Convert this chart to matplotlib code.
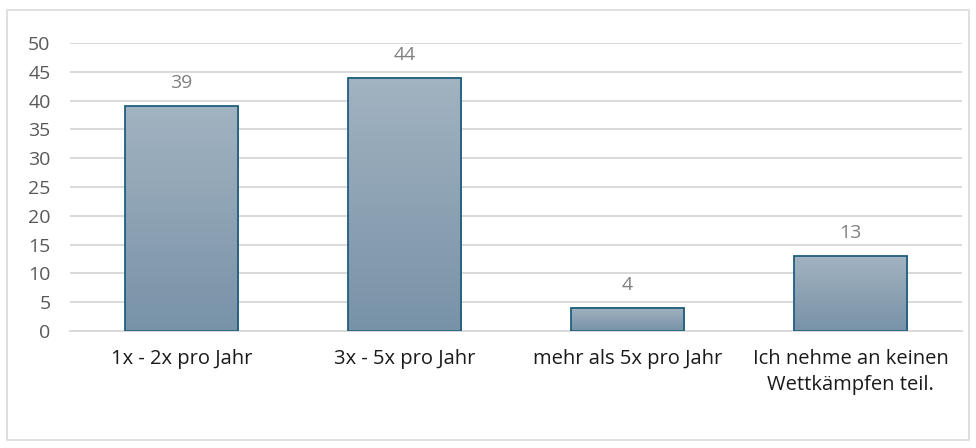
import numpy as np
import matplotlib.pyplot as plt
from matplotlib.patches import Rectangle
from matplotlib.colors import LinearSegmentedColormap

# Häufigkeit der Wettkampfteilnahme
kategorien = ["1x - 2x pro Jahr", "3x - 5x pro Jahr", "mehr als 5x pro Jahr",
              "Ich nehme an keinen\nWettkämpfen teil."]
werte = [39, 44, 4, 13]
y_ticks = list(range(0, 55, 5))

plt.rcParams['font.family'] = ['Open Sans', 'DejaVu Sans']

fig = plt.figure(figsize=(9.76, 4.48), dpi=100)
ax = fig.add_axes([70 / 976, (448 - 331) / 448, 892 / 976, 288 / 448])

# Rahmen um das Diagramm
fig.patches.append(Rectangle((7 / 976, 8 / 448), 962 / 976, 430 / 448,
                             transform=fig.transFigure, fill=False,
                             edgecolor="#D9D9D9", linewidth=1.2))

x = np.arange(len(werte))
breite = 0.507
bars = ax.bar(x, werte, width=breite, color="none", edgecolor="#1F5F7F",
              linewidth=1.3, zorder=3)

# Farbverlauf in den Balken
verlauf = np.linspace(0, 1, 256).reshape(-1, 1)
cmap = LinearSegmentedColormap.from_list("v", ["#7892A7", "#A2B3C1"])
for b in bars:
    x0, w, h = b.get_x(), b.get_width(), b.get_height()
    ax.imshow(verlauf, cmap=cmap, origin="lower", aspect="auto",
              extent=(x0, x0 + w, 0, h), zorder=2)

for xi, v in zip(x, werte):
    ax.annotate(str(v), (xi, v), xytext=(0, 10), textcoords="offset points",
                ha="center", va="bottom", fontsize=14, color="#808080")

ax.set_xlim(-0.5, 3.5)
ax.set_ylim(0, 50)
ax.set_yticks(y_ticks)
ax.set_xticks(x)
ax.set_xticklabels(kategorien, fontsize=14.5, color="#1A1A1A", linespacing=1.4)
ax.tick_params(axis="y", length=0, pad=14, labelsize=14, labelcolor="#595959")
ax.tick_params(axis="x", length=0, pad=13)
ax.grid(axis="y", color="#D9D9D9", linewidth=1.4, zorder=0)
ax.set_axisbelow(True)
for s in ["top", "right", "left"]:
    ax.spines[s].set_visible(False)
ax.spines["bottom"].set_color("#D9D9D9")
ax.spines["bottom"].set_linewidth(1.4)

fig.savefig("out.png", dpi=100)
